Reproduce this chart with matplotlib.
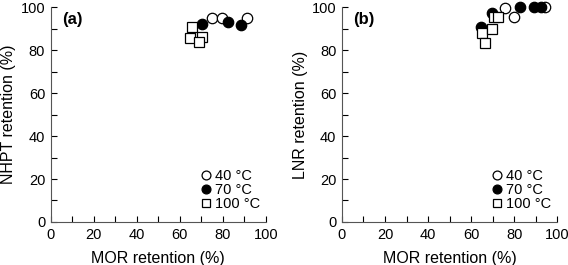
import matplotlib
matplotlib.use("Agg")
import matplotlib.pyplot as plt
import matplotlib.ticker as ticker

matplotlib.rc('font', family=['Liberation Sans', 'DejaVu Sans'], size=10)

# panel (a): MOR retention vs NHPT retention
a_mor_40 = [74.8, 79.4, 91.0]
a_nhpt_40 = [94.7, 94.7, 94.7]
a_mor_70 = [70.3, 82.3, 88.5]
a_nhpt_70 = [92.0, 93.0, 91.5]
a_mor_100 = [65.6, 64.7, 70.1, 68.9]
a_nhpt_100 = [90.8, 85.6, 85.9, 83.7]

# panel (b): MOR retention vs LNR retention
b_mor_40 = [75.8, 79.7, 94.4]
b_lnr_40 = [99.5, 95.3, 100.0]
b_mor_70 = [64.5, 69.6, 82.8, 89.3, 92.6]
b_lnr_70 = [90.8, 97.3, 100.0, 100.0, 100.0]
b_mor_100 = [65.0, 66.5, 69.6, 70.7, 72.7]
b_lnr_100 = [87.8, 83.4, 90.0, 95.3, 95.5]

legend_labels = ["40 \u00b0C", "70 \u00b0C", "100 \u00b0C"]


def draw_panel(ax, xs, ys, ylabel, tag):
    styles = [
        dict(marker='o', mfc='white', mec='black'),
        dict(marker='o', mfc='black', mec='black'),
        dict(marker='s', mfc='white', mec='black'),
    ]
    for (x, y), st, lab in zip(zip(xs, ys), styles, legend_labels):
        ax.plot(x, y, linestyle='none', markersize=7.5, markeredgewidth=0.9,
                label=lab, clip_on=False, **st)

    ax.set_xlim(0, 100)
    ax.set_ylim(0, 100)
    ax.xaxis.set_major_locator(ticker.MultipleLocator(20))
    ax.xaxis.set_minor_locator(ticker.MultipleLocator(10))
    ax.yaxis.set_major_locator(ticker.MultipleLocator(20))
    ax.yaxis.set_minor_locator(ticker.MultipleLocator(10))
    ax.tick_params(which='both', direction='in', length=4.5, width=0.8, pad=4,
                   labelsize=10.5)
    ax.spines['top'].set_visible(False)
    ax.spines['right'].set_visible(False)
    for s in ['left', 'bottom']:
        ax.spines[s].set_linewidth(0.8)
        ax.spines[s].set_color('#555555')

    ax.set_xlabel('MOR retention (%)', fontsize=11.5, labelpad=7)
    ax.set_ylabel(ylabel, fontsize=11.5, labelpad=3)
    ax.text(0.053, 0.944, tag, transform=ax.transAxes, fontsize=12,
            fontweight='bold', va='center', ha='left')

    ax.legend(loc='lower right', frameon=False, handletextpad=0.25,
              labelspacing=0.0, borderaxespad=0.0, handlelength=0.8,
              markerscale=0.85, fontsize=10.5, bbox_to_anchor=(1.0, 0.025))


fig = plt.figure(figsize=(5.68, 2.65), dpi=100)
ax1 = fig.add_axes([0.0893, 0.1623, 0.379, 0.811])
ax2 = fig.add_axes([0.602, 0.1623, 0.379, 0.811])

draw_panel(ax1, [a_mor_40, a_mor_70, a_mor_100],
           [a_nhpt_40, a_nhpt_70, a_nhpt_100], 'NHPT retention (%)', '(a)')
draw_panel(ax2, [b_mor_40, b_mor_70, b_mor_100],
           [b_lnr_40, b_lnr_70, b_lnr_100], 'LNR retention (%)', '(b)')

plt.savefig('out.png', dpi=100)
